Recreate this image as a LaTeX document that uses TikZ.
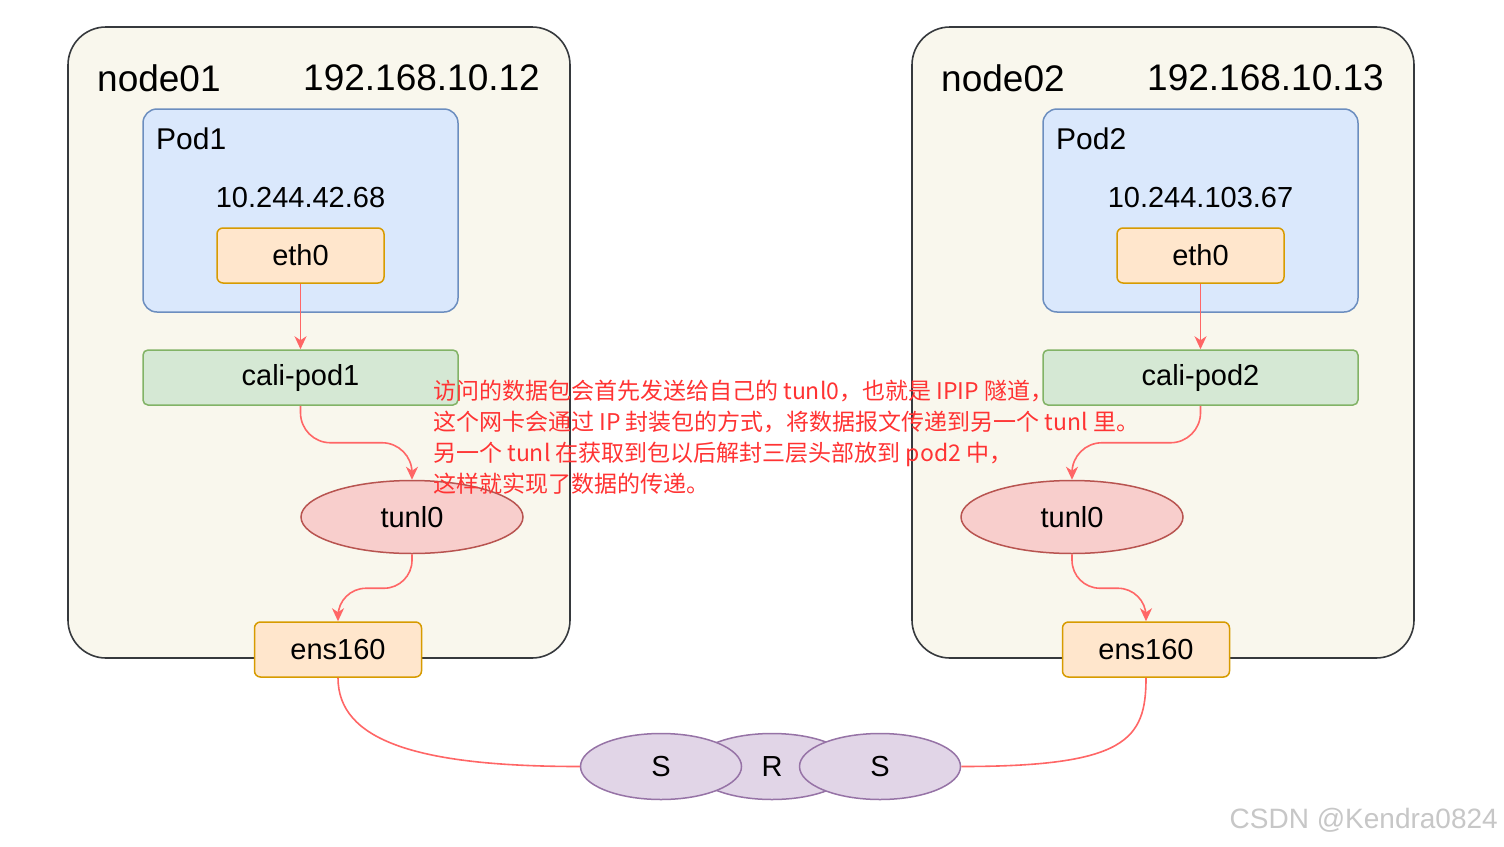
\documentclass[tikz,border=0pt]{standalone}
\usepackage{fontspec}
\setmainfont{Liberation Sans}
\newfontfamily\cjk{Noto Sans CJK SC}
\usepackage{tikz}
\usetikzlibrary{calc,arrows.meta,shapes.geometric}

\definecolor{hostfill}{HTML}{F9F7ED}
\definecolor{hostline}{HTML}{36393D}
\definecolor{podfill}{HTML}{DAE8FC}
\definecolor{podline}{HTML}{6C8EBF}
\definecolor{ethfill}{HTML}{FFE6CC}
\definecolor{ethline}{HTML}{D79B00}
\definecolor{califill}{HTML}{D5E8D4}
\definecolor{caliline}{HTML}{82B366}
\definecolor{tunlfill}{HTML}{F8CECC}
\definecolor{tunlline}{HTML}{B85450}
\definecolor{srfill}{HTML}{E1D5E7}
\definecolor{srline}{HTML}{9673A6}
\definecolor{flowred}{HTML}{FF6666}
\definecolor{notered}{HTML}{FF3333}

\tikzset{
	hostbox/.style={draw=hostline,fill=hostfill,line width=1.6pt,rounded corners=38pt,minimum width=502pt,minimum height=631pt},
	podbox/.style={draw=podline,fill=podfill,line width=1.5pt,rounded corners=14pt,minimum width=315pt,minimum height=203pt},
	ethbox/.style={draw=ethline,fill=ethfill,line width=1.5pt,rounded corners=6pt,minimum width=167pt,minimum height=55pt,font=\fontsize{29}{32}\selectfont},
	calibox/.style={draw=caliline,fill=califill,line width=1.5pt,rounded corners=5pt,minimum width=315pt,minimum height=55pt,font=\fontsize{29}{32}\selectfont},
	tunlbox/.style={ellipse,draw=tunlline,fill=tunlfill,line width=1.5pt,minimum width=222pt,minimum height=73pt,font=\fontsize{29}{32}\selectfont},
	srbox/.style={ellipse,draw=srline,fill=srfill,line width=1.5pt,minimum width=161pt,minimum height=66pt,font=\fontsize{29}{32}\selectfont},
	title/.style={inner sep=0pt,font=\fontsize{37}{40}\selectfont},
	podlabel/.style={inner sep=0pt,font=\fontsize{30}{34}\selectfont},
	iplabel/.style={inner sep=0pt,font=\fontsize{29}{32}\selectfont},
	flow/.style={draw=flowred,line width=1.6pt,-{Stealth[length=13pt,width=12pt,inset=4pt]}},
	link/.style={draw=flowred,line width=1.6pt},
}

\begin{document}
\begin{tikzpicture}[x=1pt,y=-1pt]
	\useasboundingbox[fill=white] (0,0) rectangle (1504,846);

	%node01
	\node[hostbox] (n1) at (319,342.5) {};
	\node[title,anchor=west] (n1name) at (97,78) {node01};
	\node[title,anchor=east] (n1ip) at (540,78) {192.168.10.12};
	\node[podbox] (pod1) at (300.5,210.5) {};
	\node[podlabel,anchor=west] (pod1name) at (156,139) {Pod1};
	\node[iplabel] (pod1ip) at (300.5,198) {10.244.42.68};
	\node[ethbox] (eth1) at (300.5,255.5) {eth0};
	\node[calibox] (cp1) at (300.5,377.5) {cali-pod1};
	\node[tunlbox] (tun1) at (412,517) {tunl0};
	\node[ethbox] (ens1) at (338,649.5) {ens160};

	%node02
	\node[hostbox] (n2) at (1163,342.5) {};
	\node[title,anchor=west] (n2name) at (941,78) {node02};
	\node[title,anchor=east] (n2ip) at (1384,78) {192.168.10.13};
	\node[podbox] (pod2) at (1200.5,210.5) {};
	\node[podlabel,anchor=west] (pod2name) at (1056,139) {Pod2};
	\node[iplabel] (pod2ip) at (1200.5,198) {10.244.103.67};
	\node[ethbox] (eth2) at (1200.5,255.5) {eth0};
	\node[calibox] (cp2) at (1200.5,377.5) {cali-pod2};
	\node[tunlbox] (tun2) at (1072,517) {tunl0};
	\node[ethbox] (ens2) at (1146,649.5) {ens160};

	%switch / router
	\node[srbox] (r) at (772,766.5) {R};
	\node[srbox] (s1) at (661,766.5) {S};
	\node[srbox] (s2) at (880,766.5) {S};

	%arrows
	\draw[flow] (eth1.south) -- (cp1.north);
	\draw[flow,rounded corners=30pt] (cp1.south) -- ++(0,37) -| (tun1.north);
	\draw[flow,rounded corners=28pt] (tun1.south) -- ++(0,34) -| (ens1.north);
	\draw[flow] (eth2.south) -- (cp2.north);
	\draw[flow,rounded corners=30pt] (cp2.south) -- ++(0,37) -| (tun2.north);
	\draw[flow,rounded corners=28pt] (tun2.south) -- ++(0,34) -| (ens2.north);
	\draw[link] (ens1.south) .. controls +(0,62) and +(-165,0) .. (s1.west);
	\draw[link] (ens2.south) .. controls +(0,62) and +(165,0) .. (s2.east);

	%note
	\node[anchor=base west,inner sep=0pt,align=left,text=notered,font=\cjk\fontsize{23}{30.7}\selectfont] (note) at (433,492)
		{访问的数据包会首先发送给自己的 tunl0，也就是 IPIP 隧道，\\
		这个网卡会通过 IP 封装包的方式，将数据报文传递到另一个 tunl 里。\\
		另一个 tunl 在获取到包以后解封三层头部放到 pod2 中，\\
		这样就实现了数据的传递。};

	\node[anchor=east,inner sep=0pt,text=black!22,font=\fontsize{28}{30}\selectfont] (mark) at (1498,820) {CSDN @Kendra0824};
\end{tikzpicture}
\end{document}
